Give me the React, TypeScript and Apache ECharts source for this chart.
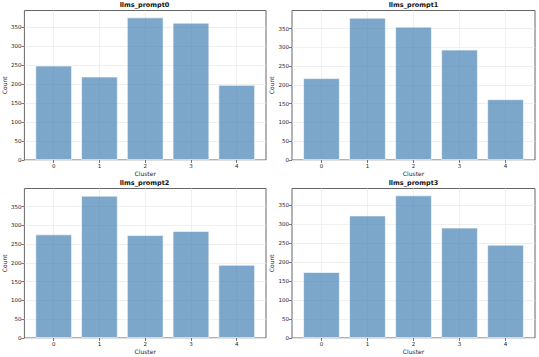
import React, { useEffect, useRef } from "react";
import * as echarts from "echarts";

const titles = ["llms_prompt0", "llms_prompt1", "llms_prompt2", "llms_prompt3"];
const clusters = [0, 1, 2, 3, 4];
const prompt0 = [249, 220, 376, 362, 198];
const prompt1 = [218, 379, 355, 294, 162];
const prompt2 = [276, 379, 274, 285, 195];
const prompt3 = [174, 323, 376, 291, 246];
const yMaxes = [394, 398, 398, 394];
const yTicks = [0, 50, 100, 150, 200, 250, 300, 350];
const allValues = [prompt0, prompt1, prompt2, prompt3];

const FONT = "DejaVu Sans";

export default function App() {
  const ref = useRef<HTMLDivElement>(null);
  useEffect(() => {
    const chart = echarts.init(ref.current!, null, { renderer: "svg" });
    const lefts = [23, 292, 23, 292];
    const tops = [10.5, 10.5, 188.5, 188.5];
    const W = 243;
    const H = 149.5;
    const grids: any[] = [];
    const xAxes: any[] = [];
    const yAxes: any[] = [];
    const series: any[] = [];
    const graphics: any[] = [];
    allValues.forEach((vals, i) => {
      grids.push({
        left: lefts[i],
        top: tops[i],
        width: W,
        height: H,
        show: true,
        borderColor: "#666",
        borderWidth: 1,
        backgroundColor: "transparent",
        containLabel: false,
      });
      xAxes.push({
        type: "value",
        gridIndex: i,
        min: -0.64,
        max: 4.64,
        position: "bottom",
        axisLine: { show: false, onZero: false },
        axisTick: { show: true, length: 3, lineStyle: { color: "#555", width: 0.8 }, customValues: clusters },
        axisLabel: { fontSize: 5.5, color: "#222", fontFamily: FONT, margin: 3, customValues: clusters },
        splitLine: { show: true, lineStyle: { color: "#ebebeb", width: 0.8 } },
        name: "Cluster",
        nameLocation: "middle",
        nameGap: 10,
        nameTextStyle: { fontSize: 6, color: "#222", fontFamily: FONT },
      });
      yAxes.push({
        type: "value",
        gridIndex: i,
        min: 0,
        max: yMaxes[i],
        position: "left",
        axisLine: { show: false, onZero: false },
        axisTick: { show: true, length: 3, lineStyle: { color: "#555", width: 0.8 }, customValues: yTicks },
        axisLabel: { fontSize: 5.5, color: "#222", fontFamily: FONT, margin: 3, customValues: yTicks },
        splitLine: { show: true, lineStyle: { color: "#ebebeb", width: 0.8 } },
        name: "Count",
        nameLocation: "middle",
        nameGap: 14,
        nameRotate: 90,
        nameTextStyle: { fontSize: 6, color: "#222", fontFamily: FONT },
      });
      series.push({
        type: "bar",
        xAxisIndex: i,
        yAxisIndex: i,
        data: clusters.map((c, k) => [c, vals[k]]),
        barWidth: 36.8,
        itemStyle: {
          color: "rgba(70,130,180,0.7)",
          borderColor: "rgba(255,255,255,0.6)",
          borderWidth: 1,
        },
      });
      graphics.push({
        type: "text",
        x: lefts[i] + W / 2,
        y: tops[i] - 5.5,
        style: {
          text: titles[i],
          fontSize: 6.5,
          fontWeight: "bold",
          fontFamily: FONT,
          fill: "#111",
          align: "center",
          verticalAlign: "middle",
        },
      });
    });
    chart.setOption({
      animation: false,
      backgroundColor: "#fff",
      grid: grids,
      xAxis: xAxes,
      yAxis: yAxes,
      series,
      graphic: graphics,
    });
    return () => chart.dispose();
  }, []);
  return (
    <div
      ref={ref}
      style={{ position: "fixed", left: 0, top: 0, width: 539, height: 357 }}
    />
  );
}
